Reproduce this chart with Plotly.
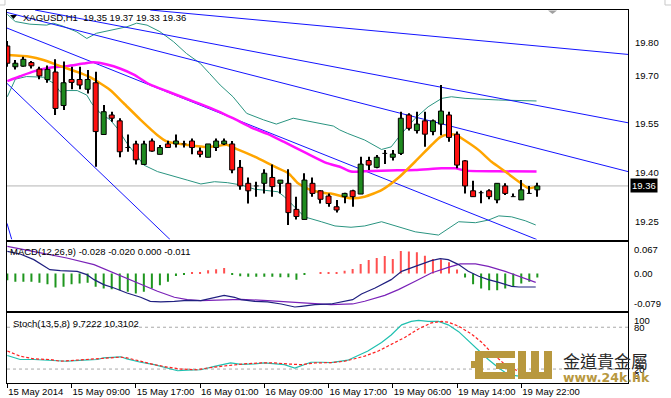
import plotly.graph_objects as go

# ---------------- data ----------------
bar_index = list(range(67))
opens = [19.790, 19.726, 19.728, 19.739, 19.719, 19.687, 19.710, 19.607, 19.687, 19.687,
         19.657, 19.677, 19.518, 19.578, 19.560, 19.478, 19.489, 19.426, 19.498, 19.457,
         19.489, 19.489, 19.489, 19.498, 19.467, 19.448, 19.478, 19.489, 19.489, 19.417,
         19.368, 19.360, 19.368, 19.386, 19.368, 19.368, 19.288, 19.257, 19.368, 19.345,
         19.329, 19.296, 19.327, 19.345, 19.335, 19.438, 19.417, 19.460, 19.448, 19.460,
         19.578, 19.530, 19.560, 19.527, 19.550, 19.578, 19.519, 19.437, 19.345, 19.339,
         19.345, 19.317, 19.360, 19.327, 19.317, 19.337, 19.348]
highs = [19.805, 19.747, 19.757, 19.744, 19.726, 19.730, 19.749, 19.742, 19.726, 19.726,
         19.716, 19.711, 19.609, 19.588, 19.568, 19.518, 19.499, 19.499, 19.506, 19.486,
         19.499, 19.518, 19.499, 19.506, 19.478, 19.489, 19.506, 19.506, 19.498, 19.440,
         19.386, 19.373, 19.411, 19.426, 19.378, 19.411, 19.327, 19.399, 19.386, 19.347,
         19.337, 19.317, 19.339, 19.348, 19.450, 19.450, 19.455, 19.470, 19.470, 19.588,
         19.583, 19.588, 19.588, 19.564, 19.670, 19.588, 19.527, 19.440, 19.376, 19.345,
         19.350, 19.368, 19.368, 19.337, 19.378, 19.360, 19.370]
lows = [19.726, 19.718, 19.726, 19.721, 19.688, 19.677, 19.578, 19.593, 19.657, 19.657,
        19.644, 19.419, 19.518, 19.557, 19.448, 19.465, 19.426, 19.424, 19.465, 19.457,
        19.478, 19.478, 19.478, 19.457, 19.448, 19.448, 19.467, 19.486, 19.399, 19.348,
        19.306, 19.327, 19.337, 19.327, 19.337, 19.240, 19.257, 19.257, 19.327, 19.306,
        19.296, 19.278, 19.307, 19.296, 19.335, 19.409, 19.414, 19.427, 19.438, 19.455,
        19.530, 19.521, 19.480, 19.516, 19.516, 19.496, 19.414, 19.337, 19.327, 19.307,
        19.319, 19.307, 19.332, 19.327, 19.317, 19.337, 19.327]
closes = [19.737, 19.737, 19.749, 19.729, 19.698, 19.718, 19.598, 19.677, 19.678, 19.670,
          19.687, 19.527, 19.588, 19.568, 19.465, 19.478, 19.440, 19.489, 19.467, 19.478,
          19.478, 19.498, 19.489, 19.478, 19.457, 19.489, 19.498, 19.498, 19.409, 19.360,
          19.345, 19.360, 19.399, 19.358, 19.378, 19.278, 19.266, 19.378, 19.337, 19.319,
          19.306, 19.286, 19.337, 19.327, 19.427, 19.424, 19.448, 19.460, 19.458, 19.568,
          19.537, 19.550, 19.519, 19.560, 19.590, 19.509, 19.424, 19.360, 19.327, 19.339,
          19.327, 19.368, 19.337, 19.327, 19.348, 19.337, 19.360]

# moving averages
ma_fast_x = [0, 2.8, 4.5, 6.6, 8.6, 10.3, 12.8, 14.5, 16.6, 18.7, 19.9, 22.4, 24.9, 27.4, 28.3,
             30.8, 33.3, 35.0, 36.2, 37.8, 39.9, 40.3, 42.8, 44.5, 46.6, 48.7, 50.8, 52.8, 53.9,
             54.9, 55.9, 56.9, 58.7, 60.3, 62.0, 63.7, 64.9, 65.9]
ma_fast_y = [19.762, 19.757, 19.747, 19.728, 19.711, 19.694, 19.655, 19.614, 19.563, 19.516,
             19.496, 19.486, 19.479, 19.486, 19.476, 19.450, 19.419, 19.399, 19.368, 19.347,
             19.337, 19.337, 19.322, 19.327, 19.347, 19.385, 19.435, 19.485, 19.510, 19.518,
             19.516, 19.501, 19.470, 19.434, 19.404, 19.373, 19.353, 19.358]
ma_slow_x = [0, 1.6, 3.3, 5.3, 7.4, 9.5, 10.75, 12.4, 14.1, 15.75, 17.8, 19.9, 22.0, 24.0, 26.2,
             28.1, 30.6, 32.4, 34.4, 37.3, 39.8, 41.4, 42.8, 44.5, 48.6, 50.8, 54.1, 55.8, 57.0,
             61.1, 65.9]
ma_slow_y = [19.682, 19.697, 19.712, 19.723, 19.728, 19.736, 19.740, 19.733, 19.720, 19.702,
             19.671, 19.651, 19.631, 19.612, 19.590, 19.568, 19.537, 19.520, 19.496, 19.460,
             19.430, 19.419, 19.404, 19.405, 19.408, 19.409, 19.414, 19.414, 19.407, 19.405,
             19.404]

# bollinger bands
bb_up_x = [0, 1.0, 2.8, 4.9, 5.7, 6.8, 8.6, 9.9, 11.1, 12.8, 14.9, 16.1, 17.4, 19.0, 20.7, 22.3,
           24.0, 25.2, 26.5, 28.1, 29.8, 31.9, 33.5, 35.6, 38.1, 40.6, 41.4, 42.4, 44.5, 46.6,
           47.8, 49.1, 50.8, 52.4, 54.1, 55.3, 57.0, 61.2, 65.9]
bb_up_y = [19.887, 19.865, 19.857, 19.854, 19.860, 19.852, 19.834, 19.813, 19.829, 19.839,
           19.849, 19.860, 19.854, 19.834, 19.803, 19.767, 19.737, 19.705, 19.670, 19.634,
           19.583, 19.563, 19.550, 19.568, 19.557, 19.544, 19.532, 19.521, 19.501, 19.472,
           19.480, 19.521, 19.568, 19.603, 19.629, 19.634, 19.629, 19.624, 19.621]
bb_lo_x = [0, 1.0, 2.4, 4.5, 5.8, 6.6, 7.4, 8.7, 9.9, 10.5, 11.6, 12.8, 13.7, 14.9, 16.2, 17.0,
           18.7, 20.8, 22.4, 24.1, 25.8, 27.4, 29.1, 30.8, 32.4, 33.7, 34.5, 35.8, 37.0, 39.1,
           40.8, 42.8, 44.5, 46.6, 48.3, 50.8, 53.7, 54.9, 56.2, 58.3, 59.9, 61.2, 62.8, 64.5,
           65.8]
bb_lo_y = [19.634, 19.688, 19.696, 19.694, 19.675, 19.649, 19.653, 19.653, 19.639, 19.614,
           19.583, 19.563, 19.537, 19.491, 19.450, 19.424, 19.404, 19.388, 19.378, 19.366,
           19.373, 19.370, 19.363, 19.350, 19.345, 19.342, 19.327, 19.296, 19.265, 19.250,
           19.237, 19.233, 19.237, 19.250, 19.237, 19.219, 19.209, 19.230, 19.250, 19.247,
           19.255, 19.268, 19.265, 19.253, 19.240]

# fan / trend lines: (bar0, price0, bar1, price1)
trend_lines = [
    (17.8, 19.9005, 77.3, 19.764),
    (3.45, 19.9005, 77.3, 19.554),
    (-0.04, 19.893, 77.3, 19.404),
    (-0.04, 19.845, 65.93, 19.1954),
    (-0.04, 19.675, 20.26, 19.1954),
    (-0.04, 19.245, 0.55, 19.1954),
]

# MACD
macd_x = [0, 1.6, 3.3, 5.3, 6.6, 8.7, 9.9, 10.8, 12.0, 13.3, 14.9, 16.6, 17.8, 19.1, 20.8, 22.4,
          24.1, 25.8, 27.0, 28.3, 29.1, 30.8, 32.4, 34.1, 35.8, 36.6, 38.3, 40.3, 41.6, 43.0,
          44.1, 45.8, 47.8, 49.1, 50.8, 52.8, 53.9, 54.9, 56.2, 57.4, 58.7, 59.9, 61.2, 62.8,
          63.7, 65.8]
macd_y = [0.0472, 0.0415, 0.0295, 0.0082, 0.0061, 0.0047, -0.0024, -0.013, -0.0236, -0.0307,
          -0.0413, -0.0505, -0.059, -0.0604, -0.059, -0.0569, -0.0576, -0.0505, -0.0463, -0.0505,
          -0.0555, -0.059, -0.0604, -0.0647, -0.0711, -0.0697, -0.0661, -0.0647, -0.0604, -0.0555,
          -0.0434, -0.0307, -0.013, 0.0047, 0.0153, 0.0274, 0.0316, 0.0295, 0.0189, 0.0047,
          -0.0059, -0.013, -0.0187, -0.0272, -0.0286, -0.0286]
signal_x = [0, 3.3, 7.4, 10.8, 12.8, 14.9, 16.6, 18.7, 20.8, 22.4, 24.1, 26.6, 29.1, 32.4, 34.9,
            36.6, 38.3, 40.3, 43.0, 44.5, 47.0, 48.7, 50.8, 52.8, 54.9, 56.4, 58.3, 59.9, 62.0,
            64.1, 65.8]
signal_y = [0.0578, 0.0472, 0.033, 0.0189, 0.0047, -0.0095, -0.0222, -0.0378, -0.0505, -0.0555,
            -0.0576, -0.0562, -0.0548, -0.0576, -0.0604, -0.0633, -0.0654, -0.0661, -0.0647,
            -0.059, -0.0463, -0.0342, -0.0165, 0.0012, 0.0132, 0.0203, 0.0203, 0.0153, 0.0047,
            -0.008, -0.0187]
macd_hist = [-0.0142, -0.0177, -0.0177, -0.0177, -0.0198, -0.0227, -0.0297, -0.0283, -0.0227,
             -0.0212, -0.0198, -0.0283, -0.0319, -0.0333, -0.0354, -0.0389, -0.0425, -0.0389,
             -0.0319, -0.0248, -0.0177, -0.005, -0.0015, 0.0015, 0.003, 0.007, 0.009, 0.012,
             -0.003, -0.006, -0.007, -0.007, -0.007, -0.007, -0.008, -0.008, -0.013, -0.003,
             0.0, 0.002, 0.002, 0.002, 0.006, 0.0095, 0.020, 0.0285, 0.033, 0.037, 0.031,
             0.048, 0.047, 0.045, 0.038, 0.031, 0.030, 0.024, 0.0085, -0.0085, -0.0227, -0.032,
             -0.0354, -0.0354, -0.032, -0.027, -0.0212, -0.0177, -0.0085]
macd_labels = [0.067, 0.0, -0.079]

# Stochastic
stoch_k_x = [0, 1.6, 3.3, 5.3, 7.4, 9.5, 11.2, 12.0, 13.3, 14.1, 14.9, 16.6, 18.3, 19.9, 21.2,
             22.4, 24.1, 25.8, 27.8, 29.1, 30.8, 32.0, 33.3, 34.5, 35.8, 36.6, 37.8, 39.1, 40.3,
             42.4, 43.7, 44.9, 46.6, 47.8, 49.1, 50.3, 51.2, 52.4, 53.7, 54.9, 56.2, 57.4, 58.7,
             59.9, 61.2, 62.4, 63.7, 65.8]
stoch_k_y = [39.5, 33.7, 33.7, 32.7, 31.2, 32.7, 33.7, 36.1, 37.6, 37.6, 34.6, 29.8, 26.3, 21.5,
             17.6, 18.5, 19.0, 23.9, 28.8, 26.8, 27.3, 28.8, 27.8, 26.3, 21.5, 24.9, 29.8, 29.8,
             29.3, 32.7, 39.5, 45.9, 58.1, 68.8, 83.4, 88.3, 89.8, 88.3, 88.3, 83.4, 73.7, 60.5,
             45.9, 33.7, 21.5, 12.0, 10.0, 9.7]
stoch_d_x = [0, 1.6, 3.3, 5.3, 6.6, 8.3, 9.9, 11.6, 13.3, 14.1, 14.9, 16.6, 18.3, 19.9, 21.6,
             23.7, 24.9, 26.6, 28.3, 29.9, 31.6, 33.3, 34.9, 36.6, 38.3, 40.3, 42.0, 42.8, 44.5,
             46.2, 47.8, 49.5, 51.2, 52.8, 54.1, 54.9, 56.2, 57.8, 59.1, 60.3, 62.0, 63.7, 65.8]
stoch_d_y = [45.9, 38.5, 34.6, 33.7, 31.2, 32.7, 33.7, 34.6, 36.1, 37.1, 36.1, 31.2, 26.3, 22.9,
             20.0, 19.0, 21.5, 23.9, 26.3, 27.8, 28.8, 28.8, 27.3, 26.3, 28.8, 29.3, 31.2, 33.7,
             38.5, 45.9, 55.6, 65.4, 77.6, 86.3, 88.3, 87.3, 81.5, 70.2, 58.1, 43.4, 26.3, 16.6,
             10.3]
stoch_levels = [80, 20]
stoch_labels = [100, 80, 20, 0]

tick_bars = [0, 8, 16, 24, 32, 40, 48, 56, 64]
tick_labels = ["15 May 2014", "15 May 09:00", "15 May 17:00", "16 May 01:00", "16 May 09:00",
               "16 May 17:00", "19 May 06:00", "19 May 14:00", "19 May 22:00"]
price_ticks = [19.80, 19.70, 19.55, 19.40, 19.25]

# ---------------- style ----------------
FONT = "Liberation Sans, Arial, sans-serif"
FS = 9.5
W, H = 671, 398
ML, MR, MT, MB = 7, 43, 10, 15
X_RANGE = [-0.04, 77.29]
Y_RANGE = [19.1954, 19.9005]
GREEN = "#1f8a1f"
RED = "#ff1010"
BAND = "#2a9480"
BLUE = "#1414ff"


def px(x):
    return (x - ML) / (W - ML - MR)


def py(y):
    return (H - MB - y) / (H - MT - MB)


fig = go.Figure()

# Bollinger bands
fig.add_trace(go.Scatter(x=bb_up_x, y=bb_up_y, mode="lines", line=dict(color=BAND, width=1),
                         xaxis="x", yaxis="y"))
fig.add_trace(go.Scatter(x=bb_lo_x, y=bb_lo_y, mode="lines", line=dict(color=BAND, width=1),
                         xaxis="x", yaxis="y"))
# trend lines
for (x0, y0, x1, y1) in trend_lines:
    fig.add_trace(go.Scatter(x=[x0, x1], y=[y0, y1], mode="lines",
                             line=dict(color=BLUE, width=1), xaxis="x", yaxis="y"))
# moving averages
fig.add_trace(go.Scatter(x=ma_slow_x, y=ma_slow_y, mode="lines",
                         line=dict(color="#ff10ff", width=2.5, shape="spline", smoothing=0.6),
                         xaxis="x", yaxis="y"))
fig.add_trace(go.Scatter(x=ma_fast_x, y=ma_fast_y, mode="lines",
                         line=dict(color="#ffa500", width=2.5, shape="spline", smoothing=0.6),
                         xaxis="x", yaxis="y"))

# candles on an overlaying axis (drawn in front)
fig.add_trace(go.Bar(x=bar_index, y=[h - l for h, l in zip(highs, lows)], base=lows,
                     width=0.13, marker=dict(color="black", line=dict(width=0)),
                     xaxis="x", yaxis="y4"))
bull = [k for k in bar_index if closes[k] > opens[k]]
bear = [k for k in bar_index if closes[k] < opens[k]]
doji = [k for k in bar_index if closes[k] == opens[k]]
fig.add_trace(go.Bar(x=bull, y=[closes[k] - opens[k] for k in bull], base=[opens[k] for k in bull],
                     width=0.62, marker=dict(color=GREEN, line=dict(color="black", width=1)),
                     xaxis="x", yaxis="y4"))
fig.add_trace(go.Bar(x=bear, y=[opens[k] - closes[k] for k in bear], base=[closes[k] for k in bear],
                     width=0.62, marker=dict(color=RED, line=dict(color="black", width=1)),
                     xaxis="x", yaxis="y4"))
dx, dy = [], []
for k in doji:
    dx += [k - 0.3, k + 0.3, None]
    dy += [opens[k], opens[k], None]
fig.add_trace(go.Scatter(x=dx, y=dy, mode="lines", line=dict(color="black", width=1),
                         xaxis="x", yaxis="y4"))

# MACD
pos = [k for k in bar_index if macd_hist[k] > 0]
neg = [k for k in bar_index if macd_hist[k] < 0]
fig.add_trace(go.Bar(x=pos, y=[macd_hist[k] for k in pos], width=0.25,
                     marker=dict(color="#ff5050", line=dict(width=0)), xaxis="x2", yaxis="y2"))
fig.add_trace(go.Bar(x=neg, y=[macd_hist[k] for k in neg], width=0.25,
                     marker=dict(color="#1e961e", line=dict(width=0)), xaxis="x2", yaxis="y2"))
fig.add_trace(go.Scatter(x=signal_x, y=signal_y, mode="lines",
                         line=dict(color="#7a22b8", width=1.2), xaxis="x2", yaxis="y2"))
fig.add_trace(go.Scatter(x=macd_x, y=macd_y, mode="lines",
                         line=dict(color="#202080", width=1.2), xaxis="x2", yaxis="y2"))

# Stochastic
fig.add_trace(go.Scatter(x=stoch_k_x, y=stoch_k_y, mode="lines",
                         line=dict(color="#20c0b0", width=1.2), xaxis="x3", yaxis="y3"))
fig.add_trace(go.Scatter(x=stoch_d_x, y=stoch_d_y, mode="lines",
                         line=dict(color="#ff2020", width=1.2, dash="3px,2px"),
                         xaxis="x3", yaxis="y3"))

d_main = [py(239.5), 1.0]
d_macd = [py(310.7), py(242)]
d_stoch = [0.0, py(313.3)]

ax_common = dict(showgrid=False, zeroline=False, showline=True, mirror=True, automargin=False,
                 linecolor="black", linewidth=1, range=X_RANGE, fixedrange=True)
ay_common = dict(showgrid=False, zeroline=False, showline=True, mirror=True, automargin=False,
                 linecolor="black", linewidth=1, fixedrange=True, side="right")
fig.update_layout(
    width=W, height=H,
    margin=dict(l=ML, r=MR, t=MT, b=MB, pad=0, autoexpand=False),
    paper_bgcolor="white", plot_bgcolor="white",
    showlegend=False, barmode="overlay",
    font=dict(family=FONT, size=FS, color="black"),
    xaxis=dict(anchor="y", domain=[0, 1], showticklabels=False, ticks="", **ax_common),
    xaxis2=dict(anchor="y2", domain=[0, 1], showticklabels=False, ticks="", **ax_common),
    xaxis3=dict(anchor="y3", domain=[0, 1], tickmode="array", tickvals=tick_bars,
                ticktext=tick_labels, ticks="outside", ticklen=4, tickcolor="black",
                ticklabelposition="outside right", tickangle=0,
                tickfont=dict(family=FONT, size=FS, color="black"), **ax_common),
    yaxis=dict(anchor="x", domain=d_main, range=Y_RANGE, tickmode="array",
               tickvals=price_ticks, ticktext=["%.2f" % v for v in price_ticks],
               ticks="", ticklabelstandoff=4,
               tickfont=dict(family=FONT, size=FS, color="black"), **ay_common),
    yaxis4=dict(overlaying="y", anchor="x", range=Y_RANGE, visible=False, fixedrange=True,
                automargin=False),
    yaxis2=dict(anchor="x2", domain=d_macd, range=[-0.079, 0.067],
                showticklabels=False, ticks="", **ay_common),
    yaxis3=dict(anchor="x3", domain=d_stoch, range=[0, 100],
                showticklabels=False, ticks="", **ay_common),
)

shapes = []
# current price line
shapes.append(dict(type="line", xref="x domain", yref="y", x0=0, x1=1,
                   y0=closes[-1], y1=closes[-1], line=dict(color="#b4b4b4", width=1), layer="below"))
# stoch levels
for lv in stoch_levels:
    shapes.append(dict(type="line", xref="x3 domain", yref="y3", x0=0, x1=1, y0=lv, y1=lv,
                       line=dict(color="#a8a8a8", width=1, dash="3px,3px"), layer="below"))
# small decorations
shapes.append(dict(type="path", xref="paper", yref="paper",
                   path="M %f,%f L %f,%f L %f,%f Z" % (px(10), py(15), px(17), py(15), px(13.5), py(19)),
                   fillcolor="black", line=dict(width=0)))
shapes.append(dict(type="path", xref="paper", yref="paper",
                   path="M %f,%f L %f,%f L %f,%f Z" % (px(548), py(10.5), px(557), py(10.5), px(552.5), py(14)),
                   fillcolor="#a0a0a0", line=dict(width=0)))
shapes.append(dict(type="path", xref="paper", yref="paper",
                   path="M %f,%f L %f,%f L %f,%f" % (px(0), py(5), px(5), py(5), px(5), py(0)),
                   line=dict(color="#c8c8c8", width=1)))
shapes.append(dict(type="path", xref="paper", yref="paper",
                   path="M %f,%f L %f,%f L %f,%f" % (px(665), py(0), px(665), py(5), px(671), py(5)),
                   line=dict(color="#c8c8c8", width=1)))
# logo (G and W blocks)
GOLD = "#b8983e"
logo_rects = [
    (475, 351, 515, 358), (475, 351, 483, 379), (475, 372, 515, 379), (507, 363, 515, 379),
    (496, 363, 515, 369), (471, 361, 476, 368),
    (518, 351, 526, 379), (531, 351, 539, 373), (544, 351, 552, 379), (518, 372, 552, 379),
]
for (a, b, c, d) in logo_rects:
    shapes.append(dict(type="rect", xref="paper", yref="paper", x0=px(a), x1=px(c),
                       y0=py(d), y1=py(b), fillcolor=GOLD, line=dict(width=0), layer="above"))
fig.update_layout(shapes=shapes)

ann = []
ann.append(dict(xref="paper", yref="paper", x=px(21), y=py(17.3), xanchor="left", yanchor="middle",
                text="XAGUSD,H1  19.35 19.37 19.33 19.36", showarrow=False,
                font=dict(family=FONT, size=FS, color="black")))
ann.append(dict(xref="paper", yref="paper", x=px(8), y=py(251.3), xanchor="left", yanchor="middle",
                text="MACD(12,26,9) -0.028 -0.020 0.000 -0.011", showarrow=False,
                font=dict(family=FONT, size=FS, color="black")))
ann.append(dict(xref="paper", yref="paper", x=px(10.5), y=py(323.3), xanchor="left", yanchor="middle",
                text="Stoch(13,5,8) 9.7222 10.3102", showarrow=False,
                font=dict(family=FONT, size=FS, color="black")))
# current price box
ann.append(dict(xref="x domain", yref="y", x=1, y=closes[-1], xanchor="left", yanchor="middle",
                xshift=2, text="%.2f" % closes[-1], showarrow=False, bgcolor="black",
                borderpad=1, font=dict(family=FONT, size=FS, color="white")))
# MACD scale labels
for v, anc in zip(macd_labels, ["top", "middle", "bottom"]):
    txt = "%.3f" % v if v != 0 else "0.00"
    ann.append(dict(xref="x2 domain", yref="y2", x=1, y=v, xanchor="left", yanchor=anc,
                    xshift=4, text=txt, showarrow=False,
                    font=dict(family=FONT, size=FS, color="black")))
for v, anc in zip(stoch_labels, ["top", "middle", "middle", "bottom"]):
    ann.append(dict(xref="x3 domain", yref="y3", x=1, y=v, xanchor="left", yanchor=anc,
                    xshift=4, text=str(v), showarrow=False,
                    font=dict(family=FONT, size=FS, color="black")))
# logo texts
ann.append(dict(xref="paper", yref="paper", x=px(561), y=py(360), xanchor="left", yanchor="middle",
                text="金道貴金屬", showarrow=False,
                font=dict(family="Noto Sans CJK TC", size=17, color="#2a2a2a")))
ann.append(dict(xref="paper", yref="paper", x=px(561), y=py(377.5), xanchor="left", yanchor="middle",
                text="<b>www.24k.hk</b>", showarrow=False,
                font=dict(family="DejaVu Sans", size=12.5, color=GOLD)))
fig.update_layout(annotations=ann)

fig.write_html("out.html", config={"displayModeBar": False},
               post_script="document.body.style.margin='0';document.body.style.padding='0';"
                           "document.body.style.overflow='hidden';")
